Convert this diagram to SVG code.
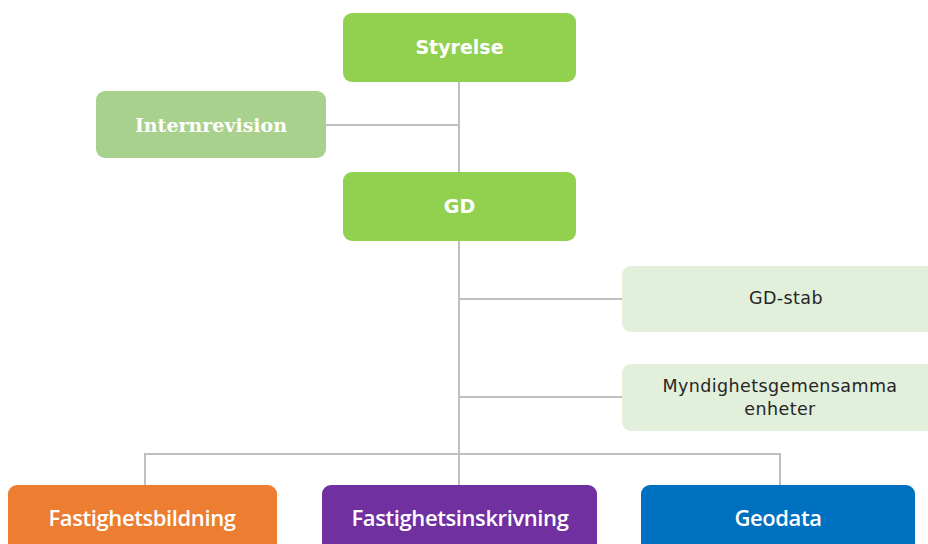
<svg xmlns="http://www.w3.org/2000/svg" width="928" height="544" viewBox="0 0 928 544">
<style>
.ln{stroke:#bfbfbf;stroke-width:2;fill:none}
.v{font-family:"DejaVu Sans",Verdana,sans-serif;text-anchor:middle}
.b{font-weight:bold;fill:#fff;font-size:19px}
.d{fill:#262626;font-size:17.5px;letter-spacing:0.4px}
.s{font-family:"DejaVu Serif","Liberation Serif",serif;font-weight:bold;fill:#fff;font-size:19px;text-anchor:middle}
.n{font-family:"Open Sans","Liberation Sans",sans-serif;font-weight:600;fill:#fff;font-size:22px;text-anchor:middle;letter-spacing:-0.4px}
</style>
<rect width="928" height="544" fill="#fff"/>
<g id="connectors">
<path class="ln" d="M459 82V454M326 125H459M459 299H622M459 397H622M145 486V454H780V486M459 454V486"/>
</g>
<g id="styrelse"><rect x="343" y="13" width="233" height="69" rx="9" fill="#92d050"/><text class="v b" x="459.500" y="54">Styrelse</text></g>
<g id="internrevision"><rect x="96" y="91" width="230" height="67" rx="9" fill="#a9d18e"/><text class="s" x="211" y="132">Internrevision</text></g>
<g id="gd"><rect x="343" y="172" width="233" height="69" rx="9" fill="#92d050"/><text class="v b" x="459.500" y="213">GD</text></g>
<g id="gd-stab"><rect x="622" y="266" width="316" height="66" rx="9" fill="#e2efda"/><text class="v d" x="786" y="304">GD-stab</text></g>
<g id="myndighetsgemensamma"><rect x="622" y="364" width="316" height="67" rx="9" fill="#e2efda"/><text class="v d" x="780" y="392">Myndighetsgemensamma</text><text class="v d" x="780" y="415">enheter</text></g>
<g id="fastighetsbildning"><rect x="8" y="485" width="269" height="70" rx="9" fill="#ed7d31"/><text class="n" x="142" y="526">Fastighetsbildning</text></g>
<g id="fastighetsinskrivning"><rect x="322" y="485" width="275" height="70" rx="9" fill="#7030a0"/><text class="n" x="460" y="526">Fastighetsinskrivning</text></g>
<g id="geodata"><rect x="641" y="485" width="274" height="70" rx="9" fill="#0070c0"/><text class="n" x="778" y="526">Geodata</text></g>
</svg>
